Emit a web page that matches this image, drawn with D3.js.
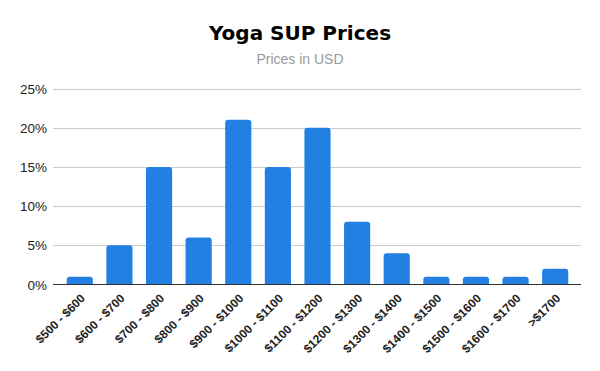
<!DOCTYPE html>
<html>
<head>
<meta charset="utf-8">
<script src="https://cdn.jsdelivr.net/npm/d3@7"></script>
<style>
  body { margin: 0; background: #fff; }
</style>
</head>
<body>
<script>
var categories = ["$500 - $600", "$600 - $700", "$700 - $800", "$800 - $900", "$900 - $1000",
  "$1000 - $1100", "$1100 - $1200", "$1200 - $1300", "$1300 - $1400", "$1400 - $1500",
  "$1500 - $1600", "$1600 - $1700", ">$1700"];
var shares = [1, 5, 15, 6, 21, 15, 20, 8, 4, 1, 1, 1, 2];
var yTicks = [0, 5, 10, 15, 20, 25];

var width = 600, height = 371;

var svg = d3.select("body").append("svg")
    .attr("width", width)
    .attr("height", height);

svg.append("text")
    .attr("x", 300)
    .attr("y", 40)
    .attr("text-anchor", "middle")
    .style("font-family", "DejaVu Sans, sans-serif")
    .style("font-weight", "bold")
    .style("font-size", "20px")
    .style("fill", "#000")
    .text("Yoga SUP Prices");

svg.append("text")
    .attr("x", 300)
    .attr("y", 64)
    .attr("text-anchor", "middle")
    .style("font-family", "Liberation Sans, Arial, sans-serif")
    .style("font-size", "14px")
    .style("fill", "#999")
    .text("Prices in USD");

var x = d3.scaleBand()
    .domain(categories)
    .range([60, 575])
    .paddingInner(0.34)
    .paddingOuter(0.17);

var y = d3.scaleLinear()
    .domain([0, 25])
    .range([284.5, 88.5]);

// gridlines
svg.append("g")
    .selectAll("line")
    .data(yTicks.slice(1))
    .enter().append("line")
    .attr("x1", 53)
    .attr("x2", 581)
    .attr("y1", function(d) { return Math.round(y(d)) + 0.5; })
    .attr("y2", function(d) { return Math.round(y(d)) + 0.5; })
    .style("stroke", "#ccc")
    .style("stroke-width", "1px");

svg.append("g")
    .selectAll("text")
    .data(yTicks)
    .enter().append("text")
    .attr("x", 47)
    .attr("y", function(d) { return y(d) + 5; })
    .attr("text-anchor", "end")
    .style("font-family", "Liberation Sans, Arial, sans-serif")
    .style("font-size", "13.5px")
    .style("fill", "#222")
    .text(function(d) { return d + "%"; });

// bars with rounded tops
var r = 3;
svg.append("g")
    .selectAll("path")
    .data(shares)
    .enter().append("path")
    .style("fill", "#2180e2")
    .attr("d", function(d, i) {
      var x0 = x(categories[i]), w = x.bandwidth(),
          y0 = y(0), y1 = y(d);
      var rr = Math.min(r, (y0 - y1) / 2);
      return "M" + x0 + "," + y0 +
        "V" + (y1 + rr) +
        "Q" + x0 + "," + y1 + " " + (x0 + rr) + "," + y1 +
        "H" + (x0 + w - rr) +
        "Q" + (x0 + w) + "," + y1 + " " + (x0 + w) + "," + (y1 + rr) +
        "V" + y0 + "Z";
    });

// baseline
svg.append("line")
    .attr("x1", 53)
    .attr("x2", 581)
    .attr("y1", 284.5)
    .attr("y2", 284.5)
    .style("stroke", "#333")
    .style("stroke-width", "1.2px");

// rotated category labels
svg.append("g")
    .selectAll("text")
    .data(categories)
    .enter().append("text")
    .attr("transform", function(d) {
      var cx = x(d) + x.bandwidth() / 2 + 6;
      return "translate(" + cx + ",299) rotate(-45)";
    })
    .attr("text-anchor", "end")
    .style("font-family", "Liberation Sans, Arial, sans-serif")
    .style("font-weight", "bold")
    .style("font-size", "12px")
    .style("fill", "#222")
    .text(function(d) { return d; });
</script>
</body>
</html>
